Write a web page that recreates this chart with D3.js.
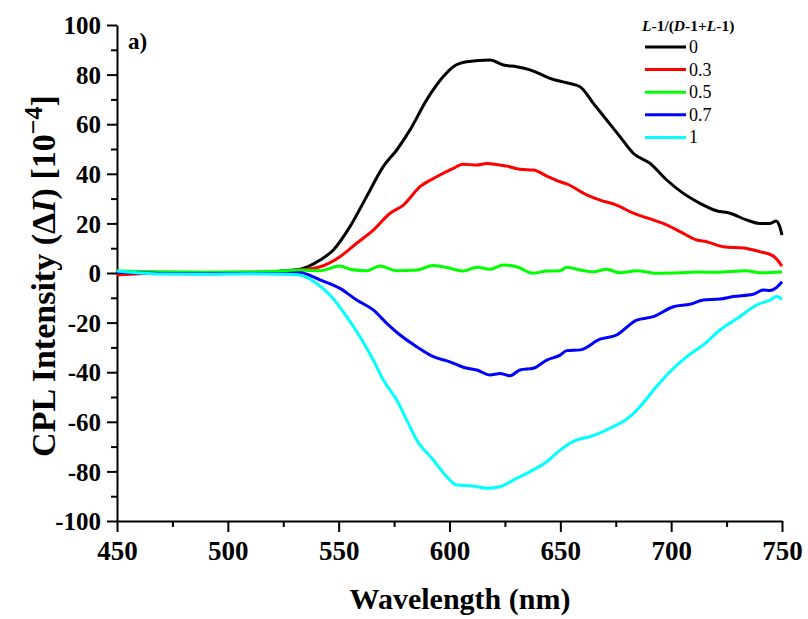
<!DOCTYPE html>
<html>
<head>
<meta charset="utf-8">
<script src="https://cdn.jsdelivr.net/npm/d3@7"></script>
<style>
  body { margin: 0; background: #fff; }
  text { font-family: "Liberation Serif", "Times New Roman", serif; }
</style>
</head>
<body>
<svg id="chart" width="808" height="619"></svg>
<script>
// wavelength (nm) and CPL values (x 10^-4)
const wl0  = [450, 470, 490, 510, 520, 527, 532.6, 541.6, 547.6, 555.1, 562.6, 570.1, 576.2, 582.2, 589.7, 597.2, 601.7, 607.8, 618.3, 624.3, 630.3, 636.3, 641, 645.3, 652.9, 658.9, 664.9, 670.9, 676.9, 682.9, 690.5, 698, 705.5, 713, 720.5, 726.5, 734, 740, 744.6, 747.3, 749, 750];
const cpl0 = [0.5, 0.3, 0.2, 0.3, 0.5, 1.0, 1.5, 5.2, 9.3, 18.7, 30.8, 42.9, 49.6, 57.7, 69.8, 79.2, 83.2, 85.2, 85.9, 83.9, 83.2, 81.9, 80.2, 78.5, 76.7, 75.1, 68.4, 61.7, 55, 48.3, 44.2, 37.5, 32.1, 28.1, 25.1, 24.1, 21.4, 20, 20, 21, 18.7, 15.3];

const wl03  = [450, 460, 480, 500, 520, 527, 532.6, 541.6, 550.6, 558.1, 565.6, 573.2, 579.2, 586.7, 594.2, 601.7, 606.2, 612.3, 616.8, 625.8, 631.8, 637.8, 643.9, 649.9, 652.9, 661.9, 667.9, 675.4, 682.9, 690.5, 696.4, 704, 711.5, 716, 723.5, 734, 740, 746, 750];
const cpl03 = [-0.8, -0.3, 0, 0, 0.3, 0.6, 1.2, 2.5, 6.6, 12, 17.3, 24.1, 27.4, 34.8, 38.8, 42.2, 43.9, 43.5, 44.2, 43.1, 41.8, 41.5, 39.1, 36.8, 35.9, 31.5, 29.4, 27.4, 24.1, 21.8, 20, 16.7, 13.3, 12.6, 10.6, 9.9, 8.6, 6.9, 2.8];

const wl05  = [450, 470, 490, 510, 525, 532.6, 541.6, 550.6, 555.1, 562.6, 568.6, 576.2, 585.2, 592.7, 600.2, 606.2, 612.3, 618.3, 624.3, 630.3, 637.8, 643.9, 649.9, 652.9, 658.9, 664.9, 670.9, 676.9, 684.4, 693.4, 704, 711.5, 720.5, 734, 740, 750];
const cpl05 = [0.8, 0.4, 0.3, 0.4, 0.8, 1.2, 0.9, 2.8, 1.5, 0.9, 2.8, 0.9, 1.2, 3, 1.9, 0.8, 2.3, 1.5, 3.2, 2.5, -0.1, 0.8, 0.9, 2.3, 1.2, 0.5, 1.5, 0.1, 0.9, -0.1, 0.1, 0.4, 0.3, 0.9, 0.1, 0.4];

const wl07  = [450, 470, 490, 510, 525, 532.6, 541.6, 550.6, 558.1, 565.6, 571.7, 577.7, 585.2, 592.7, 600.2, 606.2, 612.3, 618.3, 622.8, 627.3, 631.8, 637.8, 643.9, 649.9, 652.9, 658.9, 667.9, 675.4, 684.4, 692, 701, 708.5, 714.5, 722, 728, 737, 741.6, 744.6, 747.6, 750];
const cpl07 = [0.3, -0.2, -0.3, -0.2, -0.3, 0.1, -2.8, -6.2, -10.9, -14.9, -20.3, -25, -29.7, -33.7, -35.8, -38, -39.1, -41.1, -40.5, -41.4, -39.1, -38.4, -35.1, -33.1, -31.3, -31, -26.7, -25, -19, -17.6, -13.6, -12.6, -10.9, -10.5, -9.5, -8.6, -6.9, -7.1, -5.8, -3.5];

const wl1  = [450, 470, 490, 510, 525, 532.6, 540.1, 546.1, 553.6, 559.6, 565.6, 570.1, 576.2, 580.7, 585.2, 592.7, 598.7, 603.2, 610.7, 616.8, 622.8, 628.8, 636.3, 643.9, 649.9, 657.4, 663.4, 672.4, 681.4, 685.9, 693.4, 699.5, 707, 714.5, 722, 731, 738.5, 744.6, 747.6, 750];
const cpl1 = [0.8, -0.4, -0.5, -0.3, -0.5, -0.8, -4.2, -8.9, -17.6, -25.7, -35.1, -43.1, -51.2, -59.3, -67.3, -75.4, -82.1, -85.5, -85.9, -86.8, -86.2, -83.5, -80.1, -76.1, -71.4, -67.3, -66, -62.6, -57.9, -53.9, -45.8, -39.8, -33.7, -29, -23, -17.6, -12.9, -10.9, -9.5, -10.6];

const seriesLabels = ['0', '0.3', '0.5', '0.7', '1'];
const seriesColors = ['#000000', '#ff0000', '#00ff00', '#0000ff', '#00ffff'];
const xTicks = [450, 500, 550, 600, 650, 700, 750];
const yTicks = [-100, -80, -60, -40, -20, 0, 20, 40, 60, 80, 100];

const series = [
    { label: seriesLabels[0], color: seriesColors[0], wl: wl0, v: cpl0 },
    { label: seriesLabels[1], color: seriesColors[1], wl: wl03, v: cpl03 },
    { label: seriesLabels[2], color: seriesColors[2], wl: wl05, v: cpl05 },
    { label: seriesLabels[3], color: seriesColors[3], wl: wl07, v: cpl07 },
    { label: seriesLabels[4], color: seriesColors[4], wl: wl1, v: cpl1 }
];

const svg = d3.select('#chart');

const x = d3.scaleLinear().domain([450, 750]).range([117, 782]);
const y = d3.scaleLinear().domain([-100, 100]).range([521, 25]);

const plain = d => String(d); // hyphen minus like the original, not the unicode one

// axes: major ticks with labels, then minor ticks
const xAxis = svg.append('g').attr('transform', 'translate(0,521)')
    .call(d3.axisBottom(x).tickValues(xTicks).tickSize(11).tickSizeOuter(0).tickPadding(9).tickFormat(plain));
svg.append('g').attr('transform', 'translate(0,521)')
    .call(d3.axisBottom(x).tickValues(d3.range(475, 750, 50)).tickSize(6).tickFormat(''))
    .select('.domain').remove();

const yAxis = svg.append('g').attr('transform', 'translate(117,0)')
    .call(d3.axisLeft(y).tickValues(yTicks).tickSize(10).tickSizeOuter(0).tickPadding(6).tickFormat(plain));
svg.append('g').attr('transform', 'translate(117,0)')
    .call(d3.axisLeft(y).tickValues(d3.range(-90, 100, 20)).tickSize(6).tickFormat(''))
    .select('.domain').remove();

svg.selectAll('.domain').attr('stroke-width', 2).attr('stroke', '#000');
svg.selectAll('.tick line').attr('stroke-width', 2).attr('stroke', '#000');
xAxis.selectAll('text').attr('font-size', 27).attr('font-weight', 'bold').attr('fill', '#000')
    .attr('font-family', '"Liberation Serif", serif');
yAxis.selectAll('text').attr('font-size', 25).attr('font-weight', 'bold').attr('fill', '#000')
    .attr('font-family', '"Liberation Serif", serif').attr('dy', '0.35em');

// curves
const line = d3.line()
    .x(d => x(d[0]))
    .y(d => y(d[1]))
    .curve(d3.curveMonotoneX);

svg.append('g').selectAll('path')
    .data(series)
    .enter()
    .append('path')
    .attr('fill', 'none')
    .attr('stroke', d => d.color)
    .attr('stroke-width', 3)
    .attr('stroke-linejoin', 'round')
    .attr('d', d => line(d.wl.map((w, i) => [w, d.v[i]])));

// axis titles
svg.append('text')
    .attr('x', 460).attr('y', 609)
    .attr('text-anchor', 'middle')
    .attr('font-size', 30).attr('font-weight', 'bold')
    .text('Wavelength (nm)');

const yt = svg.append('text')
    .attr('transform', 'translate(55,276) rotate(-90)')
    .attr('text-anchor', 'middle')
    .attr('font-size', 34).attr('font-weight', 'bold');
yt.append('tspan').text('CPL Intensity (\u0394');
yt.append('tspan').attr('font-style', 'italic').text('I');
yt.append('tspan').text(') [10');
yt.append('tspan').attr('font-size', 26).attr('dy', -13).text('\u22124');
yt.append('tspan').attr('dy', 13).text(']');

// panel label
svg.append('text').attr('x', 128).attr('y', 49)
    .attr('font-size', 23).attr('font-weight', 'bold').text('a)');

// legend
const lt = svg.append('text').attr('x', 642).attr('y', 31)
    .attr('font-size', 15.5).attr('font-weight', 'bold');
lt.append('tspan').attr('font-style', 'italic').text('L');
lt.append('tspan').text('-1/(');
lt.append('tspan').attr('font-style', 'italic').text('D');
lt.append('tspan').text('-1+');
lt.append('tspan').attr('font-style', 'italic').text('L');
lt.append('tspan').text('-1)');

const leg = svg.append('g').selectAll('g')
    .data(series)
    .enter()
    .append('g')
    .attr('transform', (d, i) => `translate(645,${47 + i * 22.6})`);
leg.append('line')
    .attr('x1', 0).attr('x2', 41)
    .attr('stroke', d => d.color).attr('stroke-width', 3);
leg.append('text')
    .attr('x', 44).attr('y', 6)
    .attr('font-size', 18)
    .text(d => d.label);
</script>
</body>
</html>
